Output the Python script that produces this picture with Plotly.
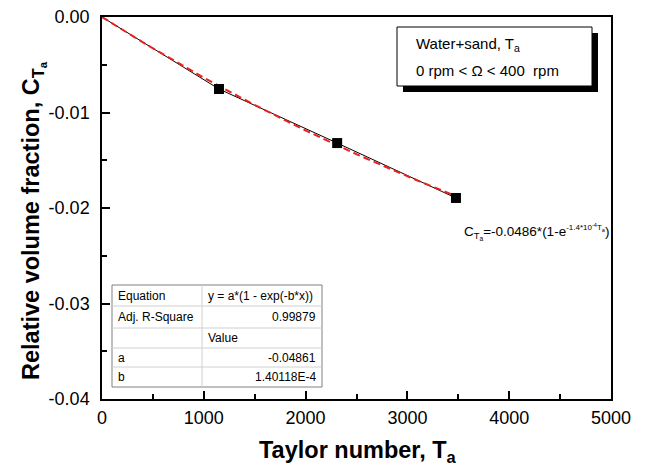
import numpy as np
import plotly.graph_objects as go

# ---- data ----
ta = [0, 1149, 2310, 3477]
c_ta = [0.0, -0.00754, -0.0132, -0.01895]
fit_a = -0.04861
fit_b = 1.40118e-4
x_ticks = [0, 1000, 2000, 3000, 4000, 5000]
y_ticks = [0.0, -0.01, -0.02, -0.03, -0.04]
y_ticklabels = ["0.00", "-0.01", "-0.02", "-0.03", "-0.04"]
table_rows = [
    ("Equation", "y = a*(1 - exp(-b*x))", "left"),
    ("Adj. R-Square", "0.99879", "right"),
    ("", "Value", "left"),
    ("a", "-0.04861", "right"),
    ("b", "1.40118E-4", "right"),
]

FONT = "Liberation Sans, Arial, sans-serif"
W, H = 650, 468
OFF = 8  # page body margin offset
# plot area in screen pixels (reference)
SL, SR, ST, SB = 102, 611, 17, 399
L, R, T, B = SL - OFF, SR - OFF, ST - OFF, SB - OFF


def px(x):
    return (x - SL) / (SR - SL)


def py(y):
    return (SB - y) / (SB - ST)


fit_x = np.linspace(0, ta[-1], 80)
fit_y = fit_a * (1 - np.exp(-fit_b * fit_x))

fig = go.Figure()
fig.add_trace(go.Scatter(x=ta, y=c_ta, mode="lines",
                         line=dict(color="black", width=1), showlegend=False))
fig.add_trace(go.Scatter(x=fit_x, y=fit_y, mode="lines",
                         line=dict(color="#e8221c", width=2, dash="7px,4px"),
                         showlegend=False))
fig.add_trace(go.Scatter(x=ta[1:], y=c_ta[1:], mode="markers",
                         marker=dict(symbol="square", size=10, color="black"),
                         showlegend=False))

shapes = []
annotations = []

# legend-like box with shadow
shapes.append(dict(type="rect", xref="paper", yref="paper",
                   x0=px(403), x1=px(598), y0=py(92), y1=py(33),
                   fillcolor="black", line=dict(width=0), layer="above"))
shapes.append(dict(type="rect", xref="paper", yref="paper",
                   x0=px(397), x1=px(592), y0=py(86), y1=py(27),
                   fillcolor="white", line=dict(color="black", width=1), layer="above"))
annotations.append(dict(xref="paper", yref="paper", x=px(414), y=py(44),
                        xanchor="left", yanchor="middle", showarrow=False,
                        text="Water+sand, T<sub>a</sub>",
                        font=dict(family=FONT, size=15, color="black")))
annotations.append(dict(xref="paper", yref="paper", x=px(414), y=py(71),
                        xanchor="left", yanchor="middle", showarrow=False,
                        text="0 rpm &lt; Ω &lt; 400  rpm",
                        font=dict(family=FONT, size=15, color="black")))

# equation annotation
annotations.append(dict(xref="paper", yref="paper", x=px(462), y=py(232),
                        xanchor="left", yanchor="middle", showarrow=False,
                        text=("C<sub>T<sub>a</sub></sub>=-0.0486*(1-e<sup>"
                              "<span style='font-size:8px'>-1.4*10<sup>-4</sup>T<sub>a</sub></span>"
                              "</sup>)"),
                        font=dict(family=FONT, size=13.5, color="black")))

# axis titles
annotations.append(dict(xref="paper", yref="paper", x=px(358), y=py(451),
                        xanchor="center", yanchor="middle", showarrow=False,
                        text="<b>Taylor number, T<sub>a</sub></b>",
                        font=dict(family=FONT, size=23.5, color="black")))
annotations.append(dict(xref="paper", yref="paper", x=px(33), y=py(221),
                        xanchor="center", yanchor="middle", showarrow=False,
                        textangle=-90,
                        text="<b>Relative volume fraction, C<sub>T<sub>a</sub></sub></b>",
                        font=dict(family=FONT, size=23.5, color="black")))

# table inset
tx0, tx1, tcol = 112, 322, 202
row_lines = [285, 306, 328, 348, 367, 387]
shapes.append(dict(type="rect", xref="paper", yref="paper",
                   x0=px(tx0), x1=px(tx1), y0=py(row_lines[-1]), y1=py(row_lines[0]),
                   fillcolor="white", line=dict(color="#808080", width=1), layer="above"))
for yl in row_lines[1:-1]:
    shapes.append(dict(type="line", xref="paper", yref="paper",
                       x0=px(tx0), x1=px(tx1), y0=py(yl), y1=py(yl),
                       line=dict(color="#d0d0d0", width=1), layer="above"))
shapes.append(dict(type="line", xref="paper", yref="paper",
                   x0=px(tcol), x1=px(tcol), y0=py(row_lines[-1]), y1=py(row_lines[0]),
                   line=dict(color="#d0d0d0", width=1), layer="above"))
for i, (c1, c2, al) in enumerate(table_rows):
    ymid = (row_lines[i] + row_lines[i + 1]) / 2
    if c1:
        annotations.append(dict(xref="paper", yref="paper", x=px(tx0 + 4), y=py(ymid),
                                xanchor="left", yanchor="middle", showarrow=False, text=c1,
                                font=dict(family=FONT, size=12, color="black")))
    if al == "left":
        annotations.append(dict(xref="paper", yref="paper", x=px(tcol + 4), y=py(ymid),
                                xanchor="left", yanchor="middle", showarrow=False, text=c2,
                                font=dict(family=FONT, size=12, color="black")))
    else:
        annotations.append(dict(xref="paper", yref="paper", x=px(tx1 - 4), y=py(ymid),
                                xanchor="right", yanchor="middle", showarrow=False, text=c2,
                                font=dict(family=FONT, size=12, color="black")))

fig.update_layout(
    width=W, height=H,
    margin=dict(l=L, r=W - R, t=T, b=H - B, autoexpand=False),
    paper_bgcolor="white", plot_bgcolor="white",
    font=dict(family=FONT, color="black"),
    shapes=shapes, annotations=annotations,
    xaxis=dict(range=[0, 5000], tickvals=x_ticks, ticks="inside", ticklen=8, tickwidth=1.5,
               tickcolor="black", showline=True, linecolor="black", linewidth=1.5,
               mirror=True, showgrid=False, zeroline=False, automargin=False,
               tickfont=dict(family=FONT, size=18), ticklabelstandoff=2,
               ticklabeloverflow="allow",
               minor=dict(dtick=500, ticks="inside", ticklen=5, tickcolor="black", tickwidth=1.5)),
    yaxis=dict(range=[-0.04, 0.0], tickvals=y_ticks, ticktext=y_ticklabels,
               ticks="inside", ticklen=8, tickwidth=1.5, tickcolor="black",
               showline=True, linecolor="black", linewidth=1.5, mirror=True,
               showgrid=False, zeroline=False, automargin=False,
               tickfont=dict(family=FONT, size=18), ticklabelstandoff=7,
               ticklabeloverflow="allow",
               minor=dict(dtick=0.005, ticks="inside", ticklen=5, tickcolor="black", tickwidth=1.5)),
)

fig.write_html("out.html")
